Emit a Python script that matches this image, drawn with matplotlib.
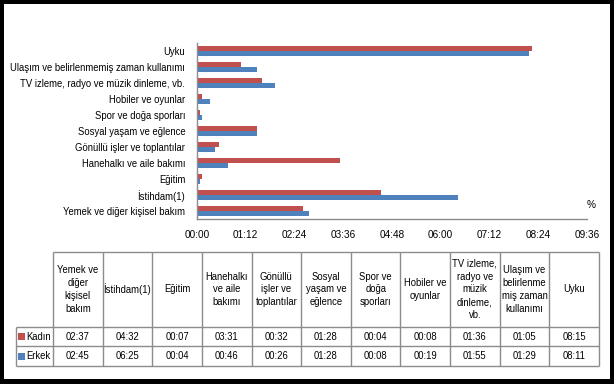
import matplotlib
matplotlib.use("Agg")
import matplotlib.pyplot as plt
from matplotlib.patches import Rectangle
from matplotlib.font_manager import fontManager

names = {f.name for f in fontManager.ttflist}
NARROW = 'Liberation Sans Narrow' in names
FONT = 'Liberation Sans Narrow' if NARROW else 'Liberation Sans'
plt.rcParams['font.family'] = [FONT, 'DejaVu Sans']
SCALE = 1.0 if NARROW else 0.84

# ---------------- data ----------------
categories = ["Yemek ve diğer kişisel bakım", "İstihdam(1)", "Eğitim",
              "Hanehalkı ve aile bakımı", "Gönüllü işler ve toplantılar",
              "Sosyal yaşam ve eğlence", "Spor ve doğa sporları",
              "Hobiler ve oyunlar", "TV izleme, radyo ve müzik dinleme, vb.",
              "Ulaşım ve belirlenmemiş zaman kullanımı", "Uyku"]
table_headers = ["Yemek ve\ndiğer\nkişisel\nbakım", "İstihdam(1)", "Eğitim",
                 "Hanehalkı\nve aile\nbakımı", "Gönüllü\nişler ve\ntoplantılar",
                 "Sosyal\nyaşam ve\neğlence", "Spor ve\ndoğa\nsporları",
                 "Hobiler ve\noyunlar", "TV izleme,\nradyo ve\nmüzik\ndinleme,\nvb.",
                 "Ulaşım ve\nbelirlenme\nmiş zaman\nkullanımı", "Uyku"]
kadin = ["02:37", "04:32", "00:07", "03:31", "00:32", "01:28", "00:04",
         "00:08", "01:36", "01:05", "08:15"]
erkek = ["02:45", "06:25", "00:04", "00:46", "00:26", "01:28", "00:08",
         "00:19", "01:55", "01:29", "08:11"]
series_names = ["Kadın", "Erkek"]
tick_labels = ["00:00", "01:12", "02:24", "03:36", "04:48", "06:00",
               "07:12", "08:24", "09:36"]

RED = "#C0504D"
BLUE = "#4F81BD"
GRID = "#8C8C8C"

def to_min(s):
    h, m = s.split(":")
    return int(h) * 60 + int(m)

k_min = [to_min(s) for s in kadin]
e_min = [to_min(s) for s in erkek]
ticks = [to_min(s) for s in tick_labels]

W, H = 614, 384
fig = plt.figure(figsize=(W / 100, H / 100), dpi=100)
fig.patch.set_facecolor("white")

# ---------------- bar chart ----------------
ax = fig.add_axes([197 / W, 1 - 219 / H, 390 / W, 176 / H])
y = list(range(len(categories)))
bh = 0.31
ax.barh([v + bh / 2 for v in y], k_min, height=bh, color=RED, linewidth=0)
ax.barh([v - bh / 2 for v in y], e_min, height=bh, color=BLUE, linewidth=0)
ax.set_xlim(ticks[0], ticks[-1])
ax.set_ylim(-0.5, len(categories) - 0.5)
ax.set_xticks(ticks)
ax.set_xticklabels(tick_labels, fontsize=8.6 * SCALE)
ax.set_yticks(y)
ax.set_yticklabels(categories, fontsize=8.2 * SCALE)
ax.tick_params(axis='both', length=0)
ax.tick_params(axis='x', pad=8)
ax.tick_params(axis='y', pad=8.5)
for s in ["top", "right"]:
    ax.spines[s].set_visible(False)
for s in ["left", "bottom"]:
    ax.spines[s].set_color(GRID)
    ax.spines[s].set_linewidth(1)
fig.text(591 / W, 1 - 205 / H, "%", fontsize=8.6 * SCALE, ha="center", va="center")

# ---------------- data table ----------------
tx = fig.add_axes([0, 0, 1, 1])
tx.set_xlim(0, W)
tx.set_ylim(H, 0)
tx.axis("off")

x0, x1, x2 = 16, 53, 599
y0, y1, y2, y3 = 252, 327, 346, 366
n = len(categories)
cw = (x2 - x1) / n
col_edges = [x1 + i * cw for i in range(n + 1)]
lkw = dict(color=GRID, lw=1, solid_capstyle="butt")
tx.plot([x1, x2], [y0, y0], **lkw)
for yy in (y1, y2, y3):
    tx.plot([x0, x2], [yy, yy], **lkw)
for cx in col_edges:
    tx.plot([cx, cx], [y0, y3], **lkw)
tx.plot([x0, x0], [y1, y3], **lkw)

fs = 8.2 * SCALE
for i, h in enumerate(table_headers):
    cx = (col_edges[i] + col_edges[i + 1]) / 2
    tx.text(cx, (y0 + y1) / 2, h, ha="center", va="center", fontsize=fs,
            linespacing=1.35)
    tx.text(cx, (y1 + y2) / 2, kadin[i], ha="center", va="center", fontsize=fs)
    tx.text(cx, (y2 + y3) / 2, erkek[i], ha="center", va="center", fontsize=fs)

for (ya, yb), name, col in (((y1, y2), series_names[0], RED),
                           ((y2, y3), series_names[1], BLUE)):
    yc = (ya + yb) / 2
    tx.add_patch(Rectangle((18, yc - 3.5), 7, 7, color=col, lw=0))
    tx.text(26, yc, name, ha="left", va="center", fontsize=fs)

# ---------------- black frame ----------------
for (rx, ry, rw, rh) in ((0, 0, W, 4), (0, 0, 4, H), (W - 4, 0, 4, H),
                         (0, H - 5, W, 5)):
    tx.add_patch(Rectangle((rx, ry), rw, rh, color="black", lw=0,
                           clip_on=False))

fig.savefig("out.png", dpi=100)
